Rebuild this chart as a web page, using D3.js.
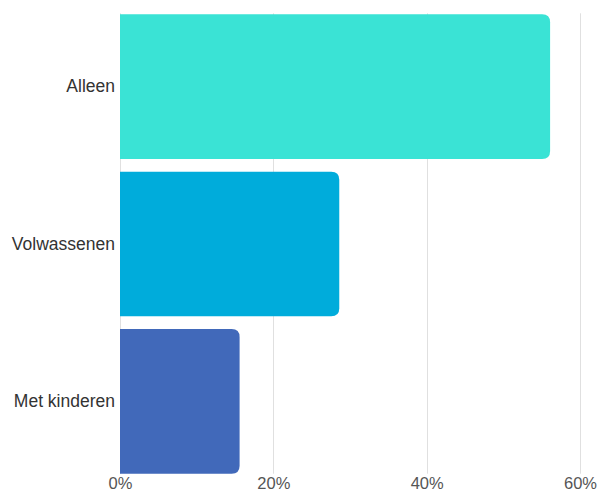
<!DOCTYPE html>
<html>
<head>
<meta charset="utf-8">
<script src="https://cdn.jsdelivr.net/npm/d3@7"></script>
<style>
  html, body { margin: 0; padding: 0; background: #fff; }
  svg { display: block; font-family: "Liberation Sans", Arial, sans-serif; }
</style>
</head>
<body>
<svg id="chart" width="599" height="491"></svg>
<script>
// Household composition shares (percent)
const categories = ["Alleen", "Volwassenen", "Met kinderen"];
const values = [56.1, 28.6, 15.6];
const barColors = ["#3ae3d5", "#00acdb", "#4169ba"];
const tickValues = [0, 20, 40, 60];

const svg = d3.select("#chart");
const width = 599, height = 491;
const margin = { left: 120, right: 19, top: 8, bottom: 11 };

const x = d3.scaleLinear().domain([0, 60]).range([margin.left, width - margin.right]);
const y = d3.scaleBand().domain(categories)
  .range([margin.top, height - margin.bottom])
  .paddingInner(0.08).paddingOuter(0.04);

const gridTop = y(categories[0]) - 1;
const gridBottom = y(categories[categories.length - 1]) + y.bandwidth();

// vertical gridlines
svg.append("g").selectAll("line").data(tickValues).join("line")
  .attr("x1", d => Math.round(x(d)) + 0.5).attr("x2", d => Math.round(x(d)) + 0.5)
  .attr("y1", gridTop).attr("y2", gridBottom)
  .attr("stroke", "#e0e0e0").attr("stroke-width", 1);

// bars with rounded right end
const r = 8;
function barPath(x0, x1, y0, h) {
  const rr = Math.min(r, (x1 - x0), h / 2);
  return `M${x0},${y0}H${x1 - rr}Q${x1},${y0} ${x1},${y0 + rr}V${y0 + h - rr}Q${x1},${y0 + h} ${x1 - rr},${y0 + h}H${x0}Z`;
}
svg.append("g").selectAll("path").data(categories).join("path")
  .attr("d", (c, i) => barPath(x(0), x(values[i]), y(c), y.bandwidth()))
  .attr("fill", (c, i) => barColors[i]);

// category labels
const yAxis = d3.axisLeft(y).tickSize(0).tickPadding(5);
const gy = svg.append("g").attr("transform", `translate(${x(0)},0)`).call(yAxis);
gy.select(".domain").remove();
gy.selectAll("text").attr("font-size", 17.5).attr("fill", "#333")
  .attr("font-family", "Liberation Sans, Arial, sans-serif");

// percentage ticks
const xAxis = d3.axisBottom(x).tickValues(tickValues).tickSize(0).tickPadding(0)
  .tickFormat(d => d + "%");
const gx = svg.append("g").attr("transform", `translate(0,${gridBottom + 4})`).call(xAxis);
gx.select(".domain").remove();
gx.selectAll("text").attr("font-size", 16.5).attr("fill", "#555")
  .attr("font-family", "Liberation Sans, Arial, sans-serif")
  .attr("dy", "0.71em");
</script>
</body>
</html>
